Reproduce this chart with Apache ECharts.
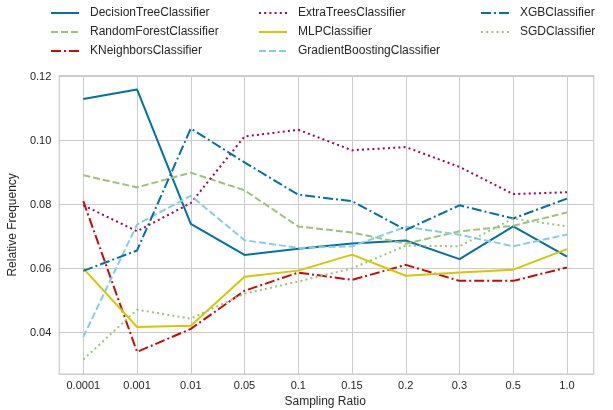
<!DOCTYPE html>
<html>
<head>
<meta charset="utf-8">
<script src="https://cdn.jsdelivr.net/npm/echarts@6/dist/echarts.min.js"></script>
<style>html,body{margin:0;padding:0;background:#fff}#c{width:613px;height:410px}</style>
</head>
<body>
<div id="c"></div>
<script>
const categories = ['0.0001','0.001','0.01','0.05','0.1','0.15','0.2','0.3','0.5','1.0'];
const decisionTree     = [0.1130,0.1160,0.0740,0.0643,0.0662,0.0679,0.0688,0.0630,0.0732,0.0638];
const randomForest     = [0.0892,0.0854,0.0900,0.0845,0.0732,0.0713,0.0678,0.0717,0.0734,0.0776];
const kNeighbors       = [0.0811,0.0340,0.0412,0.0531,0.0588,0.0565,0.0612,0.0562,0.0562,0.0604];
const extraTrees       = [0.0798,0.0717,0.0805,0.1013,0.1034,0.0970,0.0980,0.0918,0.0833,0.0839];
const mlp              = [0.0601,0.0418,0.0422,0.0575,0.0594,0.0644,0.0578,0.0588,0.0597,0.0661];
const gradientBoosting = [0.0387,0.0738,0.0828,0.0689,0.0665,0.0670,0.0731,0.0706,0.0670,0.0707];
const xgb              = [0.0593,0.0657,0.1038,0.0932,0.0831,0.0811,0.0721,0.0798,0.0757,0.0819];
const sgd              = [0.0316,0.0472,0.0444,0.0522,0.0560,0.0601,0.0672,0.0670,0.0757,0.0732];
const yTicks = ['0.04','0.06','0.08','0.10','0.12'];

const C = {b:'#0272a2', g:'#9fc377', r:'#ca0b03', m:'#a50258', y:'#d7c703', c:'#88cce6'};
const SOLID = 'solid', DASHED = [7,3], DOTTED = [2,3.2], DASHDOT = [10,3,2,3];
const seriesDefs = [
  ['DecisionTreeClassifier', decisionTree, C.b, SOLID],
  ['RandomForestClassifier', randomForest, C.g, DASHED],
  ['KNeighborsClassifier', kNeighbors, C.r, DASHDOT],
  ['ExtraTreesClassifier', extraTrees, C.m, DOTTED],
  ['MLPClassifier', mlp, C.y, SOLID],
  ['GradientBoostingClassifier', gradientBoosting, C.c, DASHED],
  ['XGBClassifier', xgb, C.b, DASHDOT],
  ['SGDClassifier', sgd, C.g, DOTTED]
];
const YMIN = 0.0271, YMAX = 0.1203;
const font = 'Liberation Sans, Arial, sans-serif';
const txt = '#262626';

const legendBase = {
  orient: 'vertical', top: 1, itemWidth: 28, itemHeight: 12, itemGap: 5,
  selectedMode: false,
  itemStyle: {opacity: 0},
  textStyle: {fontFamily: font, fontSize: 12, color: txt, padding: [0,0,0,6], lineHeight: 14}
};
const chart = echarts.init(document.getElementById('c'), null, {renderer: 'canvas'});
chart.setOption({
  animation: false,
  backgroundColor: '#fff',
  legend: [
    Object.assign({}, legendBase, {left: 45, data: seriesDefs.slice(0,3).map(s=>s[0])}),
    Object.assign({}, legendBase, {left: 253, data: seriesDefs.slice(3,6).map(s=>s[0])}),
    Object.assign({}, legendBase, {left: 475, data: seriesDefs.slice(6,8).map(s=>s[0])})
  ],
  grid: [
    {left: 83.3, right: 46, top: 75.7, bottom: 36, show: false, outerBoundsMode: 'none', containLabel: false},
    {left: 59.3, right: 19.3, top: 75.7, bottom: 36, show: true, borderColor: '#cccccc', borderWidth: 1.25, backgroundColor: 'transparent', z: 0, outerBoundsMode: 'none', containLabel: false}
  ],
  xAxis: [
    {type: 'category', gridIndex: 0, data: categories, boundaryGap: false,
     axisLine: {show: false}, axisTick: {show: false},
     axisLabel: {fontFamily: font, fontSize: 11, color: txt, margin: 6},
     splitLine: {show: true, lineStyle: {color: '#cccccc', width: 1}},
     name: 'Sampling Ratio', nameLocation: 'middle', nameGap: 21,
     nameTextStyle: {fontFamily: font, fontSize: 12, color: txt}},
    {type: 'value', gridIndex: 1, show: false, min: 0, max: 1}
  ],
  yAxis: [
    {type: 'value', gridIndex: 0, min: YMIN, max: YMAX, show: false, splitLine: {show: false}},
    {type: 'value', gridIndex: 1, min: YMIN, max: YMAX, splitNumber: 5,
     axisLine: {show: false}, axisTick: {show: false},
     axisLabel: {fontFamily: font, fontSize: 11, color: txt, margin: 8,
       formatter: function(v){ const s = v.toFixed(2); return (yTicks.indexOf(s) >= 0 && Math.abs(v - parseFloat(s)) < 1e-6) ? s : ''; }},
     splitLine: {show: true, lineStyle: {color: '#cccccc', width: 1}},
     name: 'Relative Frequency', nameLocation: 'middle', nameGap: 33,
     nameTextStyle: {fontFamily: font, fontSize: 12, color: txt}}
  ],
  series: seriesDefs.map(([name, data, color, type]) => ({
    name, type: 'line', data, xAxisIndex: 0, yAxisIndex: 0,
    symbol: 'none', showSymbol: false, color: color, z: 3,
    lineStyle: {color: color, width: 2, type: type}
  }))
});
</script>
</body>
</html>
